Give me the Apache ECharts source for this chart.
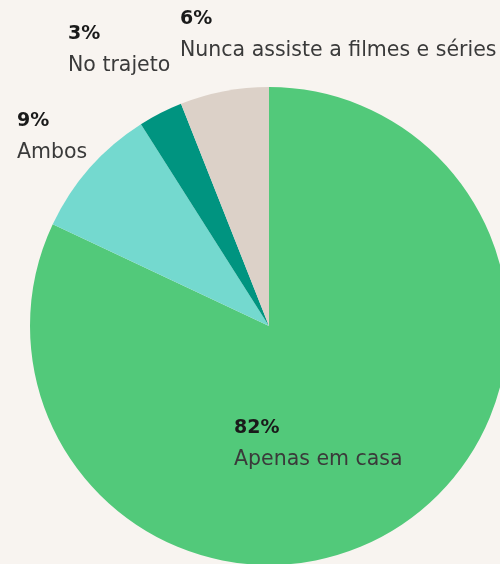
<!DOCTYPE html>
<html>
<head>
<meta charset="utf-8">
<script src="https://cdn.jsdelivr.net/npm/echarts@6/dist/echarts.min.js"></script>
<style>
  html, body { margin: 0; padding: 0; background: #f8f4f0; }
  #chart { width: 500px; height: 564px; }
</style>
</head>
<body>
<div id="chart"></div>
<script>
// categories and shares (%), clockwise from 12 o'clock
const categories = ['Apenas em casa', 'Ambos', 'No trajeto', 'Nunca assiste a filmes e séries']
const shares = [82, 9, 3, 6]
const colors = ['#52c97a', '#74d9cf', '#009480', '#dcd1c8']

// label anchor (top-left of the text block) per category
const labelPos = {
  'Apenas em casa': [234, 413],
  'Ambos': [17, 106],
  'No trajeto': [68, 19],
  'Nunca assiste a filmes e séries': [180, 4]
}

const chart = echarts.init(document.getElementById('chart'))
chart.setOption({
  backgroundColor: '#f8f4f0',
  animation: false,
  series: [{
    type: 'pie',
    center: [269, 326],
    radius: 239,
    startAngle: 90,
    clockwise: true,
    itemStyle: { borderWidth: 0 },
    label: {
      show: true,
      position: 'outside',
      overflow: 'none',
      formatter: '{p|{c}%}\n{n|{b}}',
      rich: {
        p: { fontFamily: 'DejaVu Sans', fontSize: 19, fontWeight: 'bold', color: '#1a1a1a', lineHeight: 31 },
        n: { fontFamily: 'DejaVu Sans', fontSize: 20.5, color: '#3a3a3a', lineHeight: 31 }
      }
    },
    labelLine: { show: false },
    labelLayout: (p) => {
      const pos = labelPos[categories[p.dataIndex]]
      return { x: pos[0], y: pos[1], align: 'left', verticalAlign: 'top', hideOverlap: false, moveOverlap: false }
    },
    data: categories.map((n, i) => ({ name: n, value: shares[i], itemStyle: { color: colors[i] } }))
  }]
})
</script>
</body>
</html>
